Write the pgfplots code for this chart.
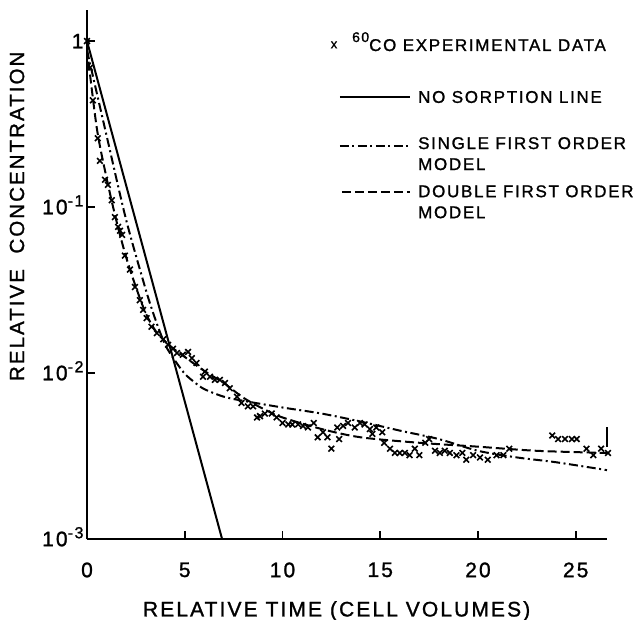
\documentclass[border=0pt]{standalone}
\usepackage{fontspec}
\setmainfont{Liberation Sans}[LetterSpace=10, FakeBold=1.2]
\usepackage{pgfplots}
\pgfplotsset{compat=1.18}
\begin{document}
\begin{tikzpicture}
\begin{axis}[
  scale only axis, width=520pt, height=529pt,
  ymode=log, xmin=0, xmax=26.6, ymin=1e-3, ymax=1.54,
  axis lines*=left,
  axis line style={line width=1.9pt},
  every tick/.style={line width=1.6pt, black},
  tick align=inside, major tick length=8pt,
  xtick={0,5,10,15,20,25}, xticklabels={0,5,10,15,20,25},
  ytick={1e-3,1e-2,1e-1,1},
  yticklabels={{10\raisebox{8pt}[0pt][0pt]{\fontsize{16}{16}\selectfont -3}},
               {10\raisebox{8pt}[0pt][0pt]{\fontsize{16}{16}\selectfont -2}},
               {10\raisebox{8pt}[0pt][0pt]{\fontsize{16}{16}\selectfont -1}},
               {1}},
  yminorticks=false, xminorticks=false,
  /pgf/number format/assume math mode=true,
  tick label style={font=\fontsize{21}{21}\selectfont},
  xticklabel shift=20pt,
  ylabel={RELATIVE\ \ CONCENTRATION},
  xlabel={RELATIVE TIME (CELL VOLUMES)},
  every axis y label/.style={at={([xshift=-70pt]rel axis cs:0,0.61)}, rotate=90, anchor=center, font=\fontsize{20.5}{21}\selectfont},
  every axis x label/.style={at={([yshift=-72pt]rel axis cs:0.48,0)}, anchor=center, font=\fontsize{21}{21}\selectfont},
  clip=false,
]
% No sorption line
\addplot[black, line width=2pt] coordinates {(0,1) (6.91,0.001)};
% Single first order model (dash-dot)
\addplot[black, line width=2pt, dash pattern=on 9pt off 3.5pt on 2pt off 3.5pt, smooth] coordinates {
(0,0.88) (1,0.27) (2,0.084) (3,0.032) (3.5,0.021) (4,0.0148) (4.5,0.0119)
(5,0.0099) (5.5,0.0088) (6,0.0080) (7,0.0072) (8,0.0068) (10,0.0062)
(12,0.0057) (14,0.0051) (16,0.0045) (18,0.0040) (20,0.0034) (22,0.0031)
(24,0.0029) (26.6,0.0026)};
% Double first order model (dashed)
\addplot[black, line width=2pt, dash pattern=on 9pt off 4pt, smooth] coordinates {
(0,0.9) (0.5,0.3) (1,0.15) (1.5,0.083) (2,0.05) (2.5,0.033) (3,0.023)
(3.5,0.018) (4,0.0155) (4.5,0.0138) (5,0.0125) (6,0.0103) (7,0.0087)
(8,0.0071) (9,0.0061) (10,0.0054) (12,0.0046) (14,0.0041) (17,0.0038)
(20,0.0036) (23,0.0034) (26.6,0.0033)};
% Experimental data
\addplot[black, only marks, mark=x, mark size=4pt, mark options={line width=1.6pt}] coordinates {
(0,1.0) (0.15,0.69) (0.3,0.44) (0.55,0.26) (0.66,0.19) (0.92,0.146) (1.07,0.136)
(1.27,0.11) (1.43,0.087) (1.59,0.076) (1.69,0.072) (1.8,0.068) (1.94,0.051)
(2.2,0.042) (2.45,0.033) (2.7,0.0275) (2.87,0.024) (3.05,0.0214) (3.3,0.019)
(3.57,0.0174) (3.9,0.016) (4.15,0.0148) (4.4,0.014) (4.6,0.0132) (4.9,0.0129)
(5.17,0.0134) (5.36,0.0123) (5.6,0.0115) (5.93,0.0095) (6.03,0.0102) (6.29,0.0095)
(6.54,0.0091) (6.8,0.0091) (7.06,0.0087) (7.3,0.0081) (7.67,0.0072) (7.9,0.0066)
(8.23,0.0063) (8.5,0.0063) (8.7,0.0054) (8.85,0.0055) (9.1,0.0057) (9.45,0.0057)
(9.7,0.0054) (10.0,0.005) (10.3,0.0049) (10.5,0.0049) (10.8,0.0049) (11.05,0.0048)
(11.3,0.0047) (11.6,0.005) (11.8,0.0041) (12.07,0.0044) (12.3,0.0041) (12.5,0.0035)
(12.8,0.0047) (12.9,0.004) (13.1,0.0048) (13.35,0.005) (13.7,0.0047) (13.96,0.005)
(14.2,0.0049) (14.47,0.0046) (14.6,0.0043) (14.8,0.0047) (15.1,0.0044) (15.2,0.0038)
(15.5,0.0035) (15.75,0.0033) (16.0,0.0033) (16.26,0.0033) (16.5,0.0032) (16.77,0.0035)
(17.0,0.0032) (17.3,0.0038) (17.5,0.004) (17.8,0.0034) (18.05,0.0033) (18.3,0.0034)
(18.56,0.0033) (18.9,0.0032) (19.2,0.0033) (19.4,0.003) (19.75,0.0032) (20.1,0.0031)
(20.5,0.003) (20.95,0.0032) (21.3,0.0032) (21.6,0.0035)
(23.8,0.0042) (24.1,0.004) (24.45,0.004) (24.8,0.004) (25.05,0.004) (25.55,0.0035)
(25.9,0.0032) (26.3,0.0035) (26.65,0.0033)};
% end-of-run marker
\addplot[black, line width=1.6pt] coordinates {(26.6,0.0047) (26.6,0.0036)};
% legend
\node[anchor=center, inner sep=0pt, font=\fontsize{13}{13}\selectfont] at (axis description cs:0.475,0.934) {x};
\node[anchor=base west, inner sep=0pt, font=\fontsize{17}{17}\selectfont] at (axis description cs:0.5096,0.9225)
  {\raisebox{9pt}{\fontsize{14}{14}\selectfont 60}CO EXPERIMENTAL DATA};
\draw[line width=2pt] (axis description cs:0.4865,0.8355) -- (axis description cs:0.621,0.8355);
\node[anchor=west, inner sep=0pt, font=\fontsize{17}{17}\selectfont] at (axis description cs:0.6365,0.8355) {NO SORPTION LINE};
\draw[line width=2pt, dash pattern=on 9pt off 3.5pt on 2pt off 3.5pt] (axis description cs:0.4865,0.743) -- (axis description cs:0.621,0.743);
\node[anchor=north west, inner sep=0pt, align=left, font=\fontsize{17}{21}\selectfont] at (axis description cs:0.6365,0.760) {SINGLE FIRST ORDER\\MODEL};
\draw[line width=2pt, dash pattern=on 9pt off 4pt] (axis description cs:0.49,0.656) -- (axis description cs:0.621,0.656);
\node[anchor=north west, inner sep=0pt, align=left, font=\fontsize{17}{21}\selectfont] at (axis description cs:0.6365,0.669) {DOUBLE FIRST ORDER\\MODEL};
\coordinate (sw) at (rel axis cs:0,0);
\end{axis}
\pgfresetboundingbox
\path[use as bounding box] ([shift={(-87pt,-81pt)}]sw) rectangle ([shift={(547pt,539pt)}]sw);
\end{tikzpicture}
\end{document}
